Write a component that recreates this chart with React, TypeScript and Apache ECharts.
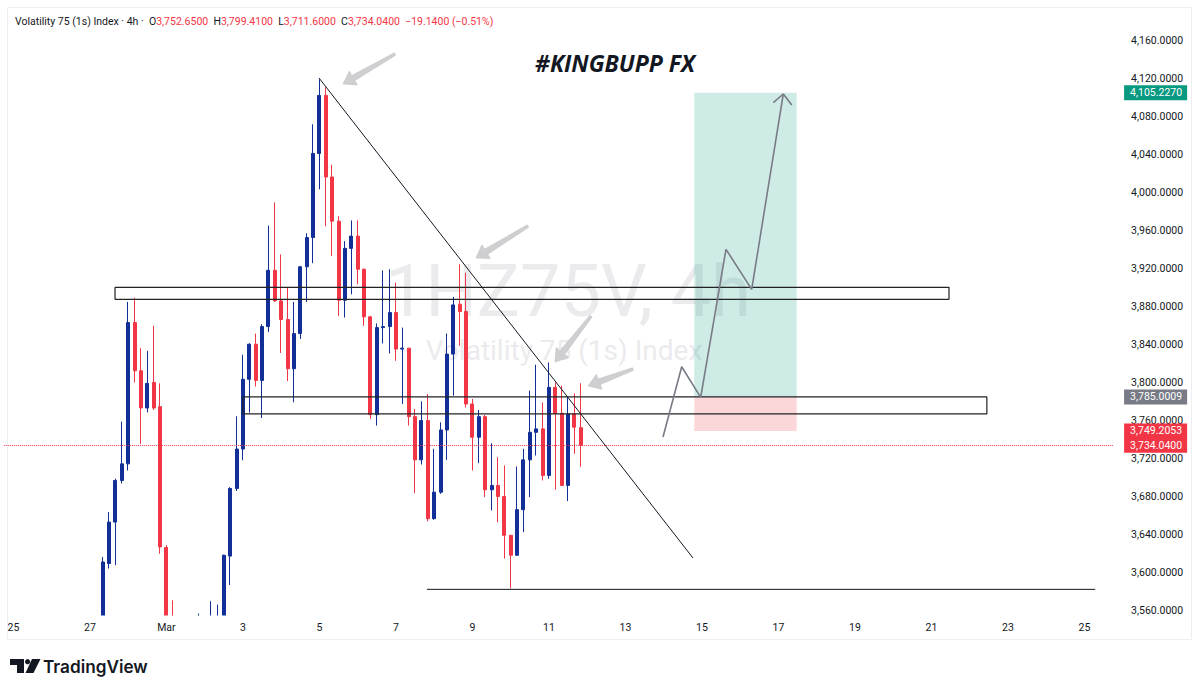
import React, { useEffect, useRef } from 'react';
import * as echarts from 'echarts';

// ---- candle data (4h bars, index 0 = Mar 1 00:00) ----
const firstBarIndex = -10;
const opens = [
  3545, 3609.7, 3653.3, 3697.1, 3714.6, 3863.3, 3812.6, 3773.4, 3800.3, 3774.8,
  3626.5, 3550, 3525, 3510, 3500, 3515, 3520, 3530, 3535, 3540,
  3617.5, 3688.7, 3730.2, 3803.6, 3840.5, 3802.4, 3859.1, 3918.3, 3886.1, 3866.5,
  3814.7, 3851.7, 3922, 3952.8, 4041.3, 4102.4, 4016.5, 3970, 3886.8, 3941.4,
  3954.3, 3919.4, 3869.3, 3766.4, 3858, 3859.1, 3873.8, 3835.4, 3836.4, 3764.3,
  3718.8, 3760.1, 3656.9, 3684.8, 3750.3, 3830.1, 3882.6, 3874.9, 3777.6, 3742.6,
  3764.3, 3687.3, 3691.9, 3680.3, 3639.4, 3618.4, 3666.4, 3718.8, 3747.8, 3751.4,
  3702.4, 3795.1, 3767.8, 3691.9, 3767.1, 3752.65,
];
const closes = [
  3611.3, 3653.3, 3697.1, 3714.6, 3863.3, 3812.6, 3773.4, 3799.3, 3773.4, 3627.1,
  3545, 3525, 3510, 3500, 3515, 3520, 3530, 3535, 3540, 3618.4,
  3688.7, 3730.2, 3803.6, 3840.5, 3802.4, 3859.1, 3918.3, 3886.1, 3866.5, 3814.7,
  3851.7, 3922, 3952.8, 4041.3, 4102.4, 4016.5, 3970, 3886.8, 3941.4, 3954.3,
  3919.4, 3869.3, 3766.4, 3858, 3859.1, 3873.8, 3835.4, 3836.4, 3764.3, 3718.8,
  3760.1, 3656.9, 3684.8, 3750.3, 3830.1, 3881.9, 3874.9, 3777.6, 3742.6, 3764.3,
  3687.3, 3691.9, 3680.3, 3639.4, 3618.4, 3666.4, 3718.8, 3747.8, 3751.4, 3702.4,
  3795.1, 3767.8, 3691.9, 3767.1, 3753.18, 3734.04,
];
const lows = [
  3540, 3604.4, 3607.9, 3694, 3707.6, 3800.3, 3735.6, 3768.8, 3771.3, 3620,
  3530, 3515, 3495, 3490, 3485, 3500, 3505, 3515, 3520, 3530,
  3587, 3686, 3718.3, 3768.5, 3796, 3762.8, 3853.5, 3885, 3831.3, 3801.7,
  3779.4, 3846, 3885, 3925.8, 4003.5, 3964.8, 3933.3, 3870.3, 3868.6, 3893,
  3903.6, 3859.8, 3761.9, 3754.9, 3841.3, 3830.8, 3823.1, 3777.6, 3754.9, 3683.8,
  3713.9, 3654, 3655.9, 3683, 3718.8, 3786.4, 3838.8, 3774, 3707.6, 3715.3,
  3679.6, 3665.6, 3653.3, 3614.9, 3583.4, 3618, 3642.8, 3679.6, 3723.4, 3697.1,
  3698.9, 3687.3, 3691.9, 3675.4, 3725.1, 3711.6,
];
const highs = [
  3616.6, 3663.8, 3699, 3759, 3885, 3889.6, 3836.4, 3833.6, 3859.8, 3799.3,
  3629, 3571, 3540, 3530, 3535, 3557, 3548, 3570, 3566.5, 3619,
  3690, 3764.6, 3829.4, 3841.5, 3851.7, 3861.6, 3965.4, 3989.8, 3935, 3899.7,
  3885, 3923, 3957.2, 4072, 4119.4, 4110.9, 4029.4, 3975.3, 3949, 3970.8,
  3970.8, 3920.4, 3870.3, 3862.3, 3918.3, 3919.4, 3905.3, 3858, 3836.4, 3772.4,
  3780.4, 3788.1, 3730.4, 3758.3, 3851.8, 3890.3, 3924.6, 3915.8, 3782.9, 3771.3,
  3766, 3736.3, 3721.6, 3712.9, 3639.4, 3711.8, 3730.4, 3791.6, 3818.9, 3779.3,
  3821.3, 3800.3, 3796.9, 3784.6, 3788.8, 3799.41,
];

// ---- axes ----
const tickLabels = ['25', '27', 'Mar', '3', '5', '7', '9', '11', '13', '15', '17', '19', '21', '23', '25'];
const firstTickIndex = -24; // Feb 25 00:00
const barsPerTick = 12; // 2 days of 4h bars
const axisStartIndex = -25;
const axisBarCount = 174;
const priceTicks = [3560, 3600, 3640, 3680, 3720, 3760, 3800, 3840, 3880, 3920, 3960, 4000, 4040, 4080, 4120, 4160];
const priceMin = 3555.5;
const priceMax = 4194.4;

// ---- drawings (x in bar index units, y in price) ----
const trendLine = [[23.94, 4120.7], [82.6, 3615.5]];
const supportLine = [[40.88, 3582.5], [145.7, 3582.5]];
const upperBox = [-8.06, 3900.4, 122.76, 3887.8];
const lowerBox = [12.0, 3785.0, 128.7, 3767.1];
const zoneX = [82.8, 98.87];
const takeProfit = 4105.227;
const entryPrice = 3785.0009;
const stopLoss = 3749.2053;
const projectedPath = [[77.9, 3742.8], [80.83, 3816.8], [83.81, 3784.6], [87.78, 3940.4], [91.81, 3898.3], [96.77, 4103.9]];
const projectedHead = [[95.2, 4094.7], [96.77, 4103.9], [98.1, 4092.3]];
const pointerArrows = [
  [35.86, 4146.0, 27.7, 4114.4],
  [56.72, 3964.9, 48.56, 3931.3],
  [66.6, 3870.2, 60.96, 3821.8],
  [73.19, 3814.4, 66.13, 3796.5],
];

const UP = '#112f96';
const DOWN = '#f23645';
const TEXT = '#131722';
const FONT = 'Roboto, "Noto Sans", sans-serif';

const fmt = (v: number) =>
  Number(v).toLocaleString('en-US', { minimumFractionDigits: 4, maximumFractionDigits: 4 });

function buildOption() {
  const categories: string[] = [];
  const candles: any[] = [];
  const tickMap: Record<string, string> = {};
  for (let k = 0; k < axisBarCount; k++) {
    const i = axisStartIndex + k;
    const key = 'bar' + i;
    categories.push(key);
    const d = i - firstTickIndex;
    if (d >= 0 && d % barsPerTick === 0) {
      const t = d / barsPerTick;
      if (t < tickLabels.length) tickMap[key] = tickLabels[t];
    }
    const j = i - firstBarIndex;
    if (j >= 0 && j < opens.length) candles.push([opens[j], closes[j], lows[j], highs[j]]);
    else candles.push('-');
  }

  const n = closes.length;
  const lastO = opens[n - 1], lastH = highs[n - 1], lastL = lows[n - 1], lastC = closes[n - 1];
  const chg = lastC - closes[n - 2];
  const pct = (chg / closes[n - 2]) * 100;
  const sign = (v: number) => (v < 0 ? '\u2212' : '+');
  const headerText =
    'Volatility 75 (1s) Index \u00b7 4h \u00b7  O{r|' + fmt(lastO) + '}  H{r|' + fmt(lastH) +
    '}  L{r|' + fmt(lastL) + '}  C{r|' + fmt(lastC) + '}  {r|' + sign(chg) + fmt(Math.abs(chg)) +
    ' (' + sign(chg) + Math.abs(pct).toFixed(2) + '%)}';

  const box = (b: number[]) => [[b[0], b[1]], [b[2], b[1]], [b[2], b[3]], [b[0], b[3]], [b[0], b[1]]];

  const badge = (value: number, bg: string, showLine: boolean) => ({
    yAxis: value,
    lineStyle: showLine
      ? { color: DOWN, type: 'dotted', width: 1 }
      : { color: 'rgba(255,255,255,0)', width: 1 },
    label: {
      show: true,
      position: 'end',
      distance: 11,
      formatter: () => fmt(value),
      color: '#ffffff',
      backgroundColor: bg,
      padding: [2, 5, 2, 6],
      fontSize: 10.5,
      fontFamily: FONT,
    },
  });

  const lineSeries = (name: string, data: number[][], color: string, width: number, z = 5, extra: any = {}) => ({
    type: 'line',
    name,
    xAxisIndex: 1,
    yAxisIndex: 0,
    data,
    symbol: 'none',
    silent: true,
    z,
    lineStyle: { color, width },
    ...extra,
  });

  return {
    animation: false,
    backgroundColor: '#ffffff',
    grid: { left: 3.8375, top: 8, width: 1109.25, height: 607, containLabel: false, outerBoundsMode: 'none' },
    xAxis: [
      {
        type: 'category',
        data: categories,
        boundaryGap: true,
        z: 20,
        axisLine: { show: false },
        axisTick: { show: false },
        splitLine: { show: false },
        axisLabel: {
          interval: (_idx: number, value: string) => tickMap[value] !== undefined,
          formatter: (value: string) => tickMap[value] || '',
          color: TEXT,
          fontSize: 10.5,
          fontFamily: FONT,
          margin: 7,
        },
      },
      {
        type: 'value',
        show: false,
        min: axisStartIndex - 0.5,
        max: axisStartIndex + axisBarCount - 0.5,
        splitLine: { show: false },
      },
    ],
    yAxis: {
      type: 'value',
      position: 'right',
      min: priceMin,
      max: priceMax,
      z: 20,
      axisLine: { show: false },
      axisTick: { show: false },
      splitLine: { show: false },
      axisLabel: {
        customValues: priceTicks,
        formatter: (v: number) => fmt(v),
        color: TEXT,
        fontSize: 10.5,
        fontFamily: FONT,
        margin: 18,
      },
    },
    graphic: [
      {
        type: 'rect',
        silent: true,
        z: 10,
        shape: { x: 0, y: 615.5, width: 1200, height: 76.5 },
        style: { fill: '#ffffff' },
      },
      {
        type: 'rect',
        silent: true,
        z: 30,
        shape: { x: 7.5, y: 7.5, width: 1184, height: 632 },
        style: { fill: 'none', stroke: '#eceef2', lineWidth: 1 },
      },
      {
        type: 'text',
        silent: true,
        z: -5,
        x: 568,
        y: 291,
        style: {
          text: '1HZ75V, 4h',
          fill: '#ebebee',
          font: '72px Roboto, "Noto Sans", sans-serif',
          align: 'center',
          verticalAlign: 'middle',
        },
      },
      {
        type: 'text',
        silent: true,
        z: -5,
        x: 564,
        y: 350,
        style: {
          text: 'Volatility 75 (1s) Index',
          fill: '#ebebee',
          font: '28px Roboto, "Noto Sans", sans-serif',
          align: 'center',
          verticalAlign: 'middle',
        },
      },
      {
        type: 'text',
        silent: true,
        z: 50,
        x: 15,
        y: 21,
        style: {
          text: headerText,
          fill: TEXT,
          font: '10.5px Roboto, "Noto Sans", sans-serif',
          verticalAlign: 'middle',
          rich: { r: { fill: DOWN, fontSize: 10.5, fontFamily: FONT } },
        },
      },
      {
        type: 'text',
        silent: true,
        z: 50,
        x: 615,
        y: 63,
        style: {
          text: '#KINGBUPP FX',
          fill: TEXT,
          font: 'italic bold 23px "Open Sans", Roboto, sans-serif',
          align: 'center',
          verticalAlign: 'middle',
        },
      },
      {
        type: 'polygon',
        silent: true,
        z: 30,
        shape: { points: [[10, 659], [24, 659], [24, 673], [17, 673], [17, 665], [10, 665]] },
        style: { fill: TEXT },
      },
      {
        type: 'circle',
        silent: true,
        z: 30,
        shape: { cx: 27.6, cy: 661.7, r: 2.6 },
        style: { fill: TEXT },
      },
      {
        type: 'polygon',
        silent: true,
        z: 30,
        shape: { points: [[32, 659], [40.5, 659], [33.5, 673], [25.5, 673]] },
        style: { fill: TEXT },
      },
      {
        type: 'text',
        silent: true,
        z: 30,
        x: 43,
        y: 666,
        style: {
          text: 'TradingView',
          fill: TEXT,
          font: '600 17.2px Inter, Roboto, sans-serif',
          verticalAlign: 'middle',
        },
      },
    ],
    series: [
      {
        type: 'candlestick',
        name: 'price',
        xAxisIndex: 0,
        yAxisIndex: 0,
        data: candles,
        barWidth: 3.5,
        clip: true,
        z: 3,
        itemStyle: {
          color: UP,
          color0: DOWN,
          borderColor: UP,
          borderColor0: DOWN,
          borderWidth: 1,
        },
        markLine: {
          silent: true,
          symbol: ['none', 'none'],
          animation: false,
          z: 40,
          data: [
            badge(takeProfit, '#089981', false),
            badge(entryPrice, '#787b86', false),
            badge(stopLoss, DOWN, false),
            badge(lastC, DOWN, true),
          ],
        },
      },
      lineSeries('trend', trendLine, '#131722', 1, 6, {
        markArea: {
          silent: true,
          data: [
            [
              { coord: [zoneX[0], takeProfit], itemStyle: { color: 'rgba(8,153,129,0.2)', borderWidth: 0 } },
              { coord: [zoneX[1], entryPrice] },
            ],
            [
              { coord: [zoneX[0], entryPrice], itemStyle: { color: 'rgba(242,54,69,0.2)', borderWidth: 0 } },
              { coord: [zoneX[1], stopLoss] },
            ],
          ],
        },
      }),
      lineSeries('support', supportLine, '#131722', 1),
      lineSeries('upperBox', box(upperBox), '#222222', 1.2),
      lineSeries('lowerBox', box(lowerBox), '#222222', 1.2),
      lineSeries('path', projectedPath, '#787b86', 1.6, 7),
      lineSeries('pathHead', projectedHead, '#787b86', 1.6, 7),
      {
        type: 'custom',
        name: 'pointers',
        xAxisIndex: 1,
        yAxisIndex: 0,
        silent: true,
        z: 8,
        data: pointerArrows,
        encode: { x: [0, 2], y: [1, 3] },
        renderItem: (_params: any, api: any) => {
          const tail = api.coord([api.value(0), api.value(1)]);
          const tip = api.coord([api.value(2), api.value(3)]);
          const dx = tip[0] - tail[0];
          const dy = tip[1] - tail[1];
          const len = Math.sqrt(dx * dx + dy * dy) || 1;
          const ux = dx / len, uy = dy / len;
          const nx = -uy, ny = ux;
          const headLen = 12;
          const bx = tip[0] - ux * headLen, by = tip[1] - uy * headLen;
          const pts = [
            [tail[0] + nx * 1.4, tail[1] + ny * 1.4],
            [bx + nx * 3, by + ny * 3],
            [bx + nx * 8, by + ny * 8],
            [tip[0], tip[1]],
            [bx - nx * 8, by - ny * 8],
            [bx - nx * 3, by - ny * 3],
            [tail[0] - nx * 1.4, tail[1] - ny * 1.4],
          ];
          return {
            type: 'polygon',
            shape: { points: pts },
            style: { fill: '#cfcfd2', stroke: '#c2c2c6', lineWidth: 0.6 },
          };
        },
      },
    ],
  };
}

export default function App() {
  const ref = useRef<HTMLDivElement>(null);
  useEffect(() => {
    if (!ref.current) return;
    const chart = echarts.init(ref.current, null, { renderer: 'svg' });
    chart.setOption(buildOption() as any);
    return () => chart.dispose();
  }, []);
  return (
    <div
      ref={ref}
      style={{ position: 'fixed', left: 0, top: 0, width: 1200, height: 692, background: '#ffffff' }}
    />
  );
}
